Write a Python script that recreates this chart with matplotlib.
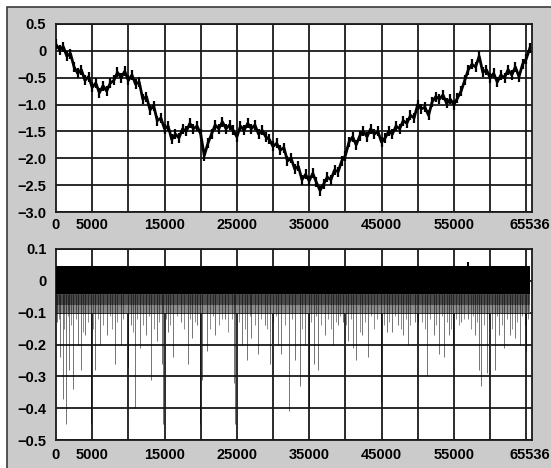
import numpy as np
import matplotlib.pyplot as plt
from matplotlib.patches import Rectangle

plt.rcParams['font.family'] = ['Liberation Sans', 'DejaVu Sans']
plt.rcParams['font.weight'] = 'bold'

step = 500
trace = [0.12, 0.02, 0.08, -0.10, -0.05, -0.30, -0.42, -0.35, -0.55, -0.48,
         -0.68, -0.60, -0.78, -0.65, -0.75, -0.60, -0.55, -0.40, -0.50, -0.38,
         -0.55, -0.45, -0.62, -0.58, -0.90, -0.85, -1.10, -1.02, -1.30, -1.25,
         -1.45, -1.40, -1.65, -1.55, -1.62, -1.45, -1.50, -1.35, -1.45, -1.40,
         -1.55, -1.95, -1.72, -1.55, -1.38, -1.45, -1.32, -1.45, -1.38, -1.48,
         -1.60, -1.40, -1.48, -1.35, -1.45, -1.38, -1.55, -1.48, -1.60, -1.65,
         -1.78, -1.72, -1.85, -1.80, -2.05, -2.00, -2.20, -2.15, -2.40, -2.30,
         -2.42, -2.28, -2.45, -2.60, -2.48, -2.35, -2.40, -2.22, -2.25, -2.05,
         -1.95, -1.70, -1.60, -1.75, -1.58, -1.50, -1.60, -1.45, -1.55, -1.50,
         -1.70, -1.62, -1.50, -1.55, -1.40, -1.45, -1.30, -1.35, -1.20, -1.25,
         -1.00, -1.08, -1.05, -1.20, -0.95, -0.85, -0.90, -0.82, -0.98, -0.90,
         -1.00, -0.88, -0.75, -0.55, -0.35, -0.25, -0.30, -0.10, -0.40, -0.35,
         -0.50, -0.42, -0.58, -0.45, -0.50, -0.35, -0.45, -0.30, -0.48, -0.25,
         -0.15, 0.05]
x_trace = np.arange(len(trace)) * step

# bottom panel: dense band plus downward spikes
n_points = 65536
band_top = 0.047
band_bottom = -0.042
haze_mid = -0.075
haze_bottom = -0.1
spike_x = [200, 600, 900, 1360, 1800, 2400, 3000, 3400, 4000, 4770,
           5450, 6150, 7050, 8180, 8960, 9900, 10300, 10900, 11600, 12500,
           13200, 13900, 14600, 14800, 15500, 16200, 17300, 18200, 18800, 19550,
           19900, 20200, 20900, 22000, 23400, 24600, 24800, 25700, 26400, 27000,
           27950, 28900, 29600, 30700, 31100, 32200, 33000, 33750, 34400, 35000,
           35700, 36250, 37200, 38300, 39000, 39700, 40400, 41100, 41500, 42300,
           43100, 44900, 45700, 46400, 47300, 48000, 48700, 49600, 50100, 51300,
           52200, 52900, 53600, 54300, 54900, 56050, 56950, 57900, 58450, 58800,
           59600, 60700, 61300, 61900, 62700, 63400, 64100, 65000]
spike_y = [-0.13, -0.24, -0.37, -0.45, -0.28, -0.34, -0.20, -0.28, -0.17, -0.45,
           -0.28, -0.20, -0.17, -0.26, -0.20, -0.27, -0.14, -0.40, -0.21, -0.17,
           -0.31, -0.19, -0.26, -0.45, -0.16, -0.24, -0.13, -0.26, -0.18, -0.14,
           -0.45, -0.31, -0.22, -0.17, -0.12, -0.32, -0.45, -0.20, -0.25, -0.18,
           -0.23, -0.14, -0.26, -0.20, -0.23, -0.41, -0.25, -0.33, -0.20, -0.40,
           -0.26, -0.28, -0.17, -0.20, -0.14, -0.13, -0.19, -0.21, -0.25, -0.17,
           -0.24, -0.38, -0.16, -0.16, -0.14, -0.17, -0.20, -0.13, -0.13, -0.30,
           -0.17, -0.23, -0.24, -0.17, -0.20, -0.13, -0.12, -0.17, -0.28, -0.33,
           -0.29, -0.28, -0.17, -0.21, -0.17, -0.18, -0.20, -0.22]
# shorter spikes that fill the zone just below the band
short_x = [400, 1100, 1600, 2100, 2700, 3700, 4400, 5100, 5800, 6500,
           7400, 7800, 8500, 9300, 10600, 11200, 12000, 12800, 13500, 14200,
           15200, 15800, 16700, 17700, 18500, 19200, 21300, 21700, 22500, 23000,
           23800, 24300, 25300, 26100, 26800, 27500, 28300, 29200, 30000, 30400,
           31600, 32600, 34000, 35300, 36000, 36600, 37600, 38000, 38700, 39300,
           40100, 40800, 42000, 42700, 43500, 43900, 44400, 45300, 46000, 46800,
           47700, 48400, 49000, 49900, 50600, 51000, 51700, 52500, 53300, 54000,
           54600, 55300, 55700, 56400, 57300, 57600, 58200, 59200, 59900, 60300,
           61000, 61600, 62300, 63000, 63700, 64400, 64800, 65300]
short_y = [-0.12, -0.15, -0.11, -0.14, -0.12, -0.16, -0.13, -0.15, -0.12, -0.14,
           -0.11, -0.15, -0.13, -0.12, -0.16, -0.12, -0.14, -0.11, -0.15, -0.13,
           -0.12, -0.14, -0.11, -0.15, -0.12, -0.13, -0.15, -0.11, -0.14, -0.12,
           -0.16, -0.12, -0.13, -0.15, -0.11, -0.14, -0.12, -0.15, -0.13, -0.11,
           -0.14, -0.12, -0.15, -0.13, -0.11, -0.14, -0.12, -0.15, -0.13, -0.11,
           -0.14, -0.12, -0.16, -0.13, -0.11, -0.15, -0.12, -0.14, -0.13, -0.11,
           -0.15, -0.12, -0.14, -0.11, -0.13, -0.15, -0.12, -0.14, -0.11, -0.13,
           -0.15, -0.12, -0.14, -0.12, -0.15, -0.11, -0.13, -0.14, -0.12, -0.15,
           -0.11, -0.14, -0.12, -0.15, -0.13, -0.11, -0.14, -0.12]
blip_x = [56900]
blip_y = [0.058]

top_yticks = [0.5, 0, -0.5, -1.0, -1.5, -2.0, -2.5, -3.0]
top_ylabels = ['0.5', '0', '\u22120.5', '\u22121.0', '\u22121.5', '\u22122.0', '\u22122.5', '\u22123.0']
bot_yticks = [0.1, 0, -0.1, -0.2, -0.3, -0.4, -0.5]
bot_ylabels = ['0.1', '0', '\u22120.1', '\u22120.2', '\u22120.3', '\u22120.4', '\u22120.5']
xticks = [0, 5000, 15000, 25000, 35000, 45000, 55000, 65536]
xlabels = ['0', '5000', '15000', '25000', '35000', '45000', '55000', '65536']
xgrid = [5000 * i for i in range(1, 14)]

W, H = 551, 468
fig = plt.figure(figsize=(W / 100, H / 100), dpi=100, facecolor='white')
fig.patches.append(Rectangle((7 / W, -0.02), 1.0, 1.02 - 7 / H, transform=fig.transFigure,
                             facecolor='#cbcbcb', edgecolor='#3a3a3a', lw=1.2, zorder=-10))

ax1 = fig.add_axes([56 / W, 1 - 212 / H, 476 / W, 188 / H])
ax2 = fig.add_axes([56 / W, 1 - 440 / H, 476 / W, 191 / H])

# fuzzy trace: line plus short vertical strokes at each sample
ax1.plot(x_trace, trace, color='black', lw=2.0, marker='|', ms=7, mew=1.6, zorder=3)
ax1.set_ylim(-3.0, 0.5)
ax1.set_yticks(top_yticks)
ax1.set_yticklabels(top_ylabels)

ax2.fill_between([0, n_points], band_bottom, band_top, color='black', lw=0, zorder=3)
ax2.fill_between([0, n_points], haze_mid, band_bottom, color='#4a4a4a', lw=0, zorder=2)
ax2.fill_between([0, n_points], haze_bottom, haze_mid, color='#8a8a8a', lw=0, zorder=2)
ax2.vlines(short_x, band_bottom, short_y, color='black', lw=0.7, alpha=0.45, zorder=2)
ax2.vlines(spike_x, band_bottom, spike_y, color='black', lw=0.7, alpha=0.55, zorder=2)
ax2.vlines(blip_x, band_top, blip_y, color='black', lw=1.5, zorder=3)
ax2.set_ylim(-0.5, 0.1)
ax2.set_yticks(bot_yticks)
ax2.set_yticklabels(bot_ylabels)

for ax in (ax1, ax2):
    ax.set_xlim(0, 65800)
    ax.xaxis.remove_overlapping_locs = False
    ax.set_xticks(xticks)
    ax.set_xticklabels(xlabels)
    ax.set_xticks(xgrid, minor=True)
    ax.grid(False)
    ax.yaxis.grid(True, color='#1a1a1a', lw=1.3, zorder=1)
    ax.xaxis.grid(True, which='minor', color='#1a1a1a', lw=1.3, zorder=1)
    ax.set_axisbelow(True)
    ax.tick_params(which='both', length=0, labelsize=10.5)
    ax.tick_params(axis='y', pad=7)
    for s in ax.spines.values():
        s.set_color('#1a1a1a')
        s.set_linewidth(1.3)
    ax.set_facecolor('white')

ax1.tick_params(axis='x', pad=4)
ax2.tick_params(axis='x', pad=6)

fig.savefig('out.png', dpi=100, facecolor=fig.get_facecolor())
